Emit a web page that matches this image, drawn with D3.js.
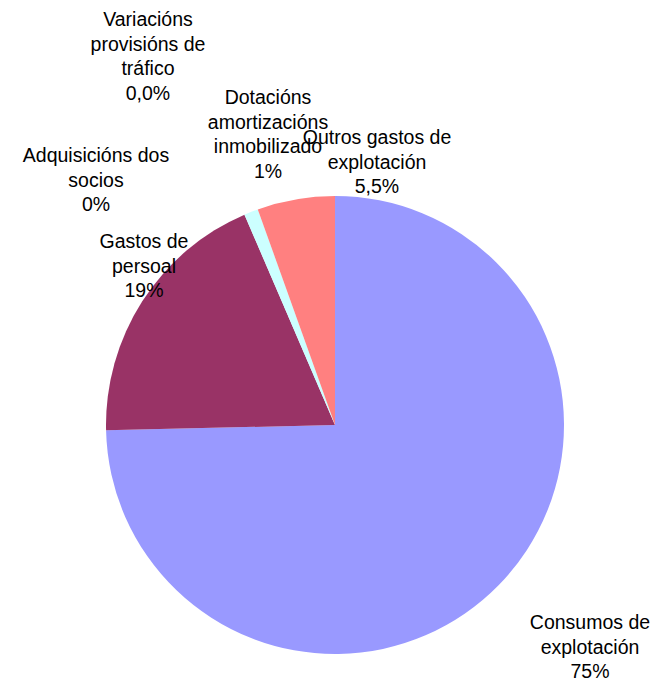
<!DOCTYPE html>
<html>
<head>
<meta charset="utf-8">
<script src="https://cdn.jsdelivr.net/npm/d3@7"></script>
<style>
  html, body { margin: 0; padding: 0; background: #ffffff; }
  svg { display: block; }
  text { font-family: "Liberation Sans", Arial, sans-serif; fill: #000; }
</style>
</head>
<body>
<svg id="chart" width="656" height="682"></svg>
<script>
// Expense breakdown, clockwise from 12 o'clock
const categories = [
  ["Consumos de", "explotación"],
  ["Gastos de", "persoal"],
  ["Adquisicións dos", "socios"],
  ["Variacións", "provisións de", "tráfico"],
  ["Dotacións", "amortizacións", "inmobilizado"],
  ["Outros gastos de", "explotación"]
];
const values = [75, 19, 0, 0, 1, 5.5];
const valueLabels = ["75%", "19%", "0%", "0,0%", "1%", "5,5%"];
const colors = ["#9999FF", "#993366", "#FFFFCC", "#CCFFFF", "#CCFFFF", "#FF8080"];

// Label anchors: centre x and first-line baseline
const labelAnchors = [
  [590, 629], [144, 248], [96, 162], [148, 26], [268, 104], [377, 144]
];

const svg = d3.select("#chart");
const cx = 335, cy = 425, radius = 229;
const lineStep = 24.5;

const pie = d3.pie().sort(null).value(d => d)
  .startAngle(0).endAngle(2 * Math.PI);
const arc = d3.arc().innerRadius(0).outerRadius(radius);

const g = svg.append("g").attr("transform", `translate(${cx},${cy})`);
g.selectAll("path")
  .data(pie(values))
  .join("path")
  .attr("d", arc)
  .attr("fill", (d, i) => colors[i]);

const labels = svg.append("g")
  .attr("font-size", "19.5px")
  .attr("text-anchor", "middle");

categories.forEach((lines, i) => {
  const [x, y] = labelAnchors[i];
  const t = labels.append("text").attr("x", x).attr("y", y);
  lines.concat([valueLabels[i]]).forEach((s, k) => {
    t.append("tspan").attr("x", x).attr("y", y + k * lineStep).text(s);
  });
});
</script>
</body>
</html>
